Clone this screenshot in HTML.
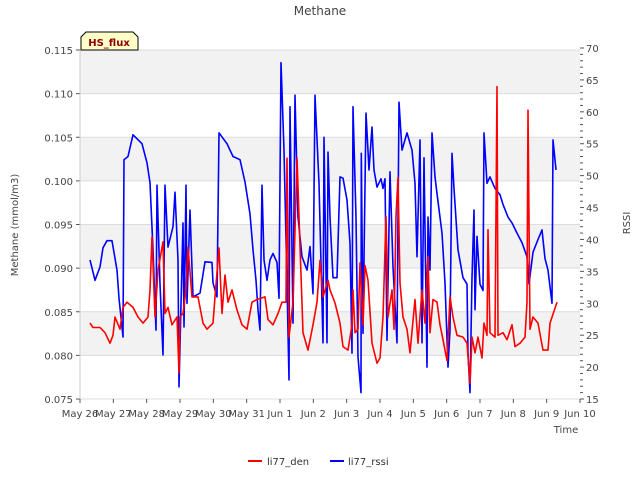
<!DOCTYPE html>
<html><head><meta charset="utf-8"><style>
body{margin:0;background:#fff;font-family:"DejaVu Sans","Liberation Sans",sans-serif;}
svg text{font-family:"DejaVu Sans","Liberation Sans",sans-serif;}
</style></head><body>
<svg id="chart" width="640" height="480" viewBox="0 0 640 480" xmlns="http://www.w3.org/2000/svg">
<rect width="640" height="480" fill="#fff"/>
<text x="320" y="15" text-anchor="middle" font-size="12" fill="#444">Methane</text>
<g id="grid"></g>
<g id="axes"></g>
<g id="series"></g>
<g>
<path d="M81,50 L81,37 L86,32 L133,32 L138,37 L138,50 Z" fill="#ffffc8" stroke="#000" stroke-width="1"/>
<text x="109" y="46" text-anchor="middle" font-size="10" font-weight="bold" fill="#8b0000">HS_flux</text>
</g>
<text transform="translate(18,225) rotate(-90)" text-anchor="middle" font-size="10" fill="#444">Methane (mmol/m3)</text>
<text transform="translate(630,223) rotate(-90)" text-anchor="middle" font-size="10" fill="#444">RSSI</text>
<text x="566" y="433" text-anchor="middle" font-size="10" fill="#444">Time</text>
<g>
<g><line x1="248" y1="461" x2="262" y2="461" stroke="#f00" stroke-width="2"/><text x="267" y="465" font-size="10" fill="#333">li77_den</text></g>
<g><line x1="330" y1="461" x2="344" y2="461" stroke="#00f" stroke-width="2"/><text x="348" y="465" font-size="10" fill="#333">li77_rssi</text></g>
</g>
</svg>
<script>
const xLabels=["May 26","May 27","May 28","May 29","May 30","May 31","Jun 1","Jun 2","Jun 3","Jun 4","Jun 5","Jun 6","Jun 7","Jun 8","Jun 9","Jun 10"];
const leftTicks=[0.075,0.080,0.085,0.090,0.095,0.100,0.105,0.110,0.115];
const rightTicks=[15,20,25,30,35,40,45,50,55,60,65,70];
const rssiT=[0.30,0.45,0.60,0.69,0.81,0.96,1.11,1.17,1.29,1.32,1.44,1.59,1.86,2.01,2.10,2.19,2.28,2.31,2.40,2.49,2.55,2.64,2.79,2.85,2.94,2.97,3.09,3.12,3.18,3.21,3.30,3.39,3.60,3.75,3.96,3.99,4.11,4.17,4.41,4.59,4.80,4.95,5.10,5.19,5.28,5.34,5.40,5.46,5.52,5.61,5.70,5.79,5.91,5.97,6.03,6.12,6.21,6.27,6.30,6.39,6.45,6.54,6.66,6.81,6.90,6.99,7.05,7.17,7.29,7.32,7.41,7.44,7.50,7.59,7.71,7.80,7.89,8.01,8.10,8.16,8.19,8.28,8.34,8.43,8.44,8.49,8.58,8.67,8.76,8.82,8.91,9.03,9.09,9.15,9.21,9.30,9.39,9.51,9.57,9.66,9.81,9.96,10.05,10.11,10.20,10.26,10.32,10.41,10.44,10.50,10.56,10.65,10.71,10.86,10.95,11.04,11.10,11.16,11.22,11.34,11.49,11.61,11.64,11.70,11.76,11.82,11.85,11.91,12.00,12.09,12.12,12.21,12.30,12.45,12.60,12.69,12.84,12.96,13.11,13.26,13.41,13.47,13.59,13.74,13.86,13.95,14.04,14.16,14.19,14.28];
const rssiV=[36.8,33.6,35.7,38.7,39.8,39.8,35.2,30.8,24.7,52.5,53,56.4,55,52,48.9,38.4,25.8,48.5,33,21.9,48.5,38.8,42,47.4,36.8,16.9,42.6,26.3,48.5,30,44.6,31,31.6,36.5,36.4,33.2,31,56.7,55,53,52.5,49,44,38.4,33.6,29,25.8,48.5,36.8,33.6,36.8,37.8,36.4,30.8,67.7,54,33,18,60.8,26.9,62.6,43.5,37.3,35.2,38.9,31.5,62.6,48.8,23.8,56,23.8,53.7,43.5,34,34,49.8,49.6,46.2,39.4,22.2,60.8,43.5,21.6,16,53.5,25.3,59.8,50.9,57.6,50.9,48.2,49.5,48,49.5,24.2,50.6,35.7,23.8,61.5,54,56.7,54,48.8,37.3,55.6,23.8,52.8,20,43.5,35.2,56.7,49.8,47.2,41,33.2,20,25.8,53.5,48,38.4,34,33,22.2,16,34,44.6,29,40.5,33,32,56.7,48.8,49.8,48,47,45.5,43.5,42.6,41,39.5,37.3,33,38,40,41.5,37,35.2,30,55.6,50.9];
const denT=[0.30,0.39,0.60,0.75,0.90,0.99,1.05,1.20,1.29,1.41,1.59,1.74,1.89,2.04,2.10,2.16,2.25,2.34,2.49,2.55,2.64,2.76,2.91,2.97,3.00,3.09,3.18,3.24,3.36,3.54,3.69,3.81,3.99,4.05,4.17,4.26,4.35,4.44,4.56,4.71,4.86,5.01,5.16,5.31,5.55,5.64,5.79,5.94,6.06,6.18,6.21,6.27,6.39,6.51,6.57,6.69,6.84,6.99,7.11,7.20,7.29,7.44,7.50,7.65,7.80,7.89,8.04,8.16,8.19,8.25,8.34,8.40,8.49,8.55,8.64,8.76,8.91,9.00,9.09,9.18,9.24,9.36,9.42,9.48,9.54,9.60,9.69,9.81,9.90,10.05,10.14,10.26,10.35,10.44,10.50,10.59,10.71,10.80,10.89,11.01,11.10,11.19,11.31,11.49,11.61,11.70,11.76,11.85,11.94,12.06,12.12,12.21,12.24,12.30,12.45,12.51,12.54,12.69,12.81,12.96,13.05,13.20,13.35,13.41,13.44,13.50,13.59,13.74,13.89,14.04,14.10,14.31];
const denV=[.0837,.0832,.0832,.0826,.0814,.0823,.0844,.0830,.0855,.0861,.0855,.0844,.0837,.0844,.0875,.0936,.0844,.0898,.0930,.0848,.0855,.0835,.0844,.0780,.0844,.0848,.0875,.0924,.0867,.0867,.0837,.0830,.0837,.0867,.0923,.0848,.0892,.0861,.0875,.0852,.0835,.0830,.0861,.0864,.0867,.0841,.0835,.0848,.0861,.0861,.1026,.0821,.0861,.1026,.0959,.0826,.0806,.0835,.0861,.0909,.0867,.0886,.0875,.0860,.0837,.0810,.0806,.0835,.0875,.0826,.0830,.0906,.0835,.0903,.0886,.0814,.0791,.0797,.0844,.0959,.0844,.0875,.0830,.0959,.1004,.0883,.0844,.0830,.0803,.0864,.0814,.0875,.0837,.0913,.0826,.0864,.0861,.0835,.0818,.0794,.0867,.0844,.0823,.0821,.0814,.0768,.0821,.0803,.0821,.0797,.0837,.0823,.0944,.0826,.0821,.1108,.0823,.0826,.0818,.0835,.0810,.0814,.0821,.0861,.1081,.0830,.0844,.0837,.0806,.0806,.0837,.0861];

const L=80,R=580,T=50,B=399;
const xs=d=>L+(d/15)*(R-L);
const yl=v=>B-(v-0.075)/0.04*(B-T);
const yr=v=>B-(v-15)/55*(B-T+2);
const NS="http://www.w3.org/2000/svg";
function mk(tag,attrs,parent){const e=document.createElementNS(NS,tag);for(const k in attrs)e.setAttribute(k,attrs[k]);parent.appendChild(e);return e;}
const grid=document.getElementById('grid'),axes=document.getElementById('axes'),series=document.getElementById('series');
for(let i=0;i<leftTicks.length-1;i++){
  const y1=yl(leftTicks[i+1]),y0=yl(leftTicks[i]);
  if(i%2===1){const r=mk('rect',{x:L,y:y1,width:R-L,height:y0-y1,fill:'#f2f2f2'},grid);
  
  }
}
leftTicks.forEach(v=>{
  const y=yl(v);
  const g=mk('line',{x1:L,x2:R,y1:y,y2:y,stroke:'#dcdcdc','stroke-width':1},grid);
  
  
  mk('line',{x1:L-4,x2:L,y1:y,y2:y,stroke:'#555'},axes);
  const t=mk('text',{x:L-7,y:y+4,'text-anchor':'end','font-size':'10',fill:'#444'},axes);
  t.textContent=v.toFixed(3);
  
  
});
for(let v=15;v<=70;v++){
  const y=yr(v);const major=v%5===0;
  mk('line',{x1:R,x2:R+(major?4:3),y1:y,y2:y,stroke:'#555'},axes);
}
rightTicks.forEach(v=>{
  const t=mk('text',{x:R+6,y:yr(v)+4,'font-size':'10',fill:'#444'},axes);
  t.textContent=v;
  
  
});
mk('line',{x1:L,x2:L,y1:T,y2:B,stroke:'#ccc'},axes);
xLabels.forEach((s,i)=>{
  const x=xs(i);
  mk('line',{x1:x,x2:x,y1:B,y2:B+4,stroke:'#555'},axes);
  const t=mk('text',{x:x,y:B+18,'text-anchor':'middle','font-size':'10',fill:'#444'},axes);
  t.textContent=s;
  
  
});
const pb=rssiT.map((d,i)=>xs(d).toFixed(1)+','+yr(rssiV[i]).toFixed(1)).join(' ');
const blue=mk('polyline',{points:pb,fill:'none',stroke:'#0000ff','stroke-width':1.6,'stroke-linejoin':'round'},series);


const pr=denT.map((d,i)=>xs(d).toFixed(1)+','+yl(denV[i]).toFixed(1)).join(' ');
const red=mk('polyline',{points:pr,fill:'none',stroke:'#ff0000','stroke-width':1.6,'stroke-linejoin':'round'},series);


</script>
</body></html>
